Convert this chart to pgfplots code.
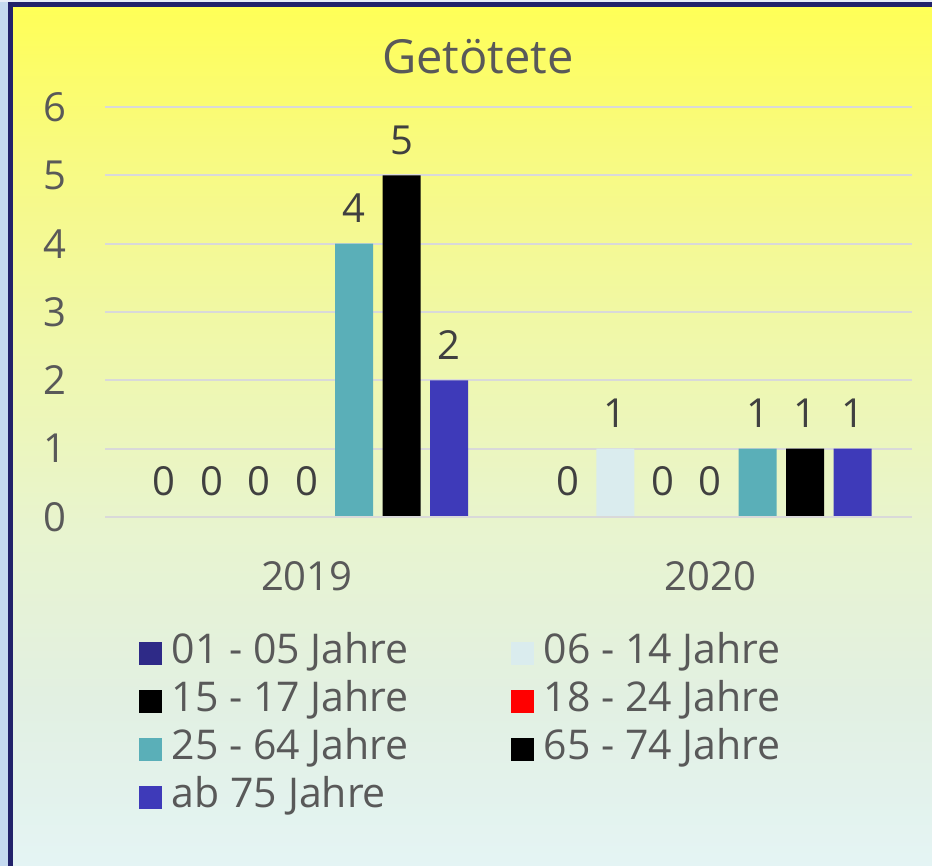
\documentclass[border=0pt]{standalone}
\usepackage{fontspec}
\setmainfont{Open Sans}
\usepackage{pgfplots}
\pgfplotsset{compat=1.18}
\definecolor{txtgray}{HTML}{595959}
\definecolor{lblgray}{HTML}{404040}
\definecolor{gridgray}{HTML}{D9D9D9}
\definecolor{cA}{HTML}{2E2A87}
\definecolor{cB}{HTML}{DAECEE}
\definecolor{cC}{HTML}{000000}
\definecolor{cD}{HTML}{FF0000}
\definecolor{cE}{HTML}{5AAFB8}
\definecolor{cF}{HTML}{000000}
\definecolor{cG}{HTML}{3E3AB9}
\definecolor{navy}{HTML}{22226A}
\definecolor{strip}{HTML}{C5DAF0}
\definecolor{topstrip}{HTML}{E8EEF8}
\definecolor{bg1}{HTML}{E4F4F4}
\definecolor{bg2}{HTML}{E2F0E2}
\definecolor{bg3}{HTML}{E8F4CF}
\definecolor{bg4}{HTML}{F0F8A8}
\definecolor{bg5}{HTML}{F8FA80}
\definecolor{bg6}{HTML}{FFFF55}
\pgfdeclareverticalshading{bgshade}{100bp}{%
  color(0bp)=(bg1);
  color(25bp)=(bg1);
  color(34.6bp)=(bg2);
  color(44.4bp)=(bg3);
  color(55.9bp)=(bg4);
  color(66.3bp)=(bg5);
  color(75bp)=(bg6);
  color(100bp)=(bg6)}
\pgfplotstableread{
x  a b c d e f g
0  0 0 0 0 4 5 2
1  0 1 0 0 1 1 1
}\datatable
\begin{document}
\begin{tikzpicture}
\useasboundingbox (0,0) rectangle (466pt,433pt);
\shade[shading=bgshade] (0,0) rectangle (466pt,433pt);
\fill[strip] (0,0) rectangle (4pt,433pt);
\fill[topstrip] (0,432pt) rectangle (466pt,433pt);
\fill[navy] (4pt,0) rectangle (6.5pt,432pt);
\fill[navy] (4pt,429.5pt) rectangle (466pt,432pt);
\node[anchor=base, font=\fontsize{23.5}{28}\selectfont, text=txtgray] at (239pt,396pt) {Getötete};
\begin{axis}[
  at={(52.5pt,174.5pt)}, anchor=south west,
  scale only axis, width=403.5pt, height=205pt,
  xmin=-0.5, xmax=1.5, ymin=0, ymax=6,
  ytick={0,1,2,3,4,5,6},
  xtick={0,1}, xticklabels={2019,2020},
  ymajorgrids, grid style={color=gridgray, line width=1pt},
  axis line style={draw=none}, tick style={draw=none},
  /pgf/number format/assume math mode=true,
  ticklabel style={font=\fontsize{20}{24}\selectfont, text=txtgray, inner sep=0pt},
  yticklabel style={anchor=east, xshift=-19pt},
  xticklabel style={anchor=north, yshift=-18pt},
  ybar, bar width=0.0943,
  every axis plot/.append style={draw=none},
  nodes near coords,
  every node near coord/.append style={anchor=base, inner sep=0pt, yshift=10.5pt, font=\fontsize{20}{24}\selectfont, text=lblgray},
  legend columns=2,
  legend image code/.code={\path[#1, draw=none] (0pt,-5.75pt) rectangle (11.5pt,5.75pt);},
  legend style={at={(axis description cs:0.0421,-0.2739)}, anchor=north west,
    draw=none, fill=none, inner sep=0pt, outer sep=0pt,
    font=\fontsize{20.5}{24}\selectfont, text=txtgray,
    nodes={text height=15pt, text depth=5pt, inner ysep=2pt, inner xsep=5pt},
    /tikz/every even column/.append style={column sep=46pt}},
  legend cell align=left,
]
\addplot[fill=cA, bar shift=-0.3528] table[x=x,y=a]{\datatable};
\addlegendentry{01 - 05 Jahre}
\addplot[fill=cB, bar shift=-0.2352] table[x=x,y=b]{\datatable};
\addlegendentry{06 - 14 Jahre}
\addplot[fill=cC, bar shift=-0.1176] table[x=x,y=c]{\datatable};
\addlegendentry{15 - 17 Jahre}
\addplot[fill=cD, bar shift=0] table[x=x,y=d]{\datatable};
\addlegendentry{18 - 24 Jahre}
\addplot[fill=cE, bar shift=0.1176] table[x=x,y=e]{\datatable};
\addlegendentry{25 - 64 Jahre}
\addplot[fill=cF, bar shift=0.2352] table[x=x,y=f]{\datatable};
\addlegendentry{65 - 74 Jahre}
\addplot[fill=cG, bar shift=0.3528] table[x=x,y=g]{\datatable};
\addlegendentry{ab 75 Jahre}
\draw[gridgray, line width=1pt] (axis cs:-0.5,0) -- (axis cs:1.5,0);
\end{axis}
\end{tikzpicture}
\end{document}
